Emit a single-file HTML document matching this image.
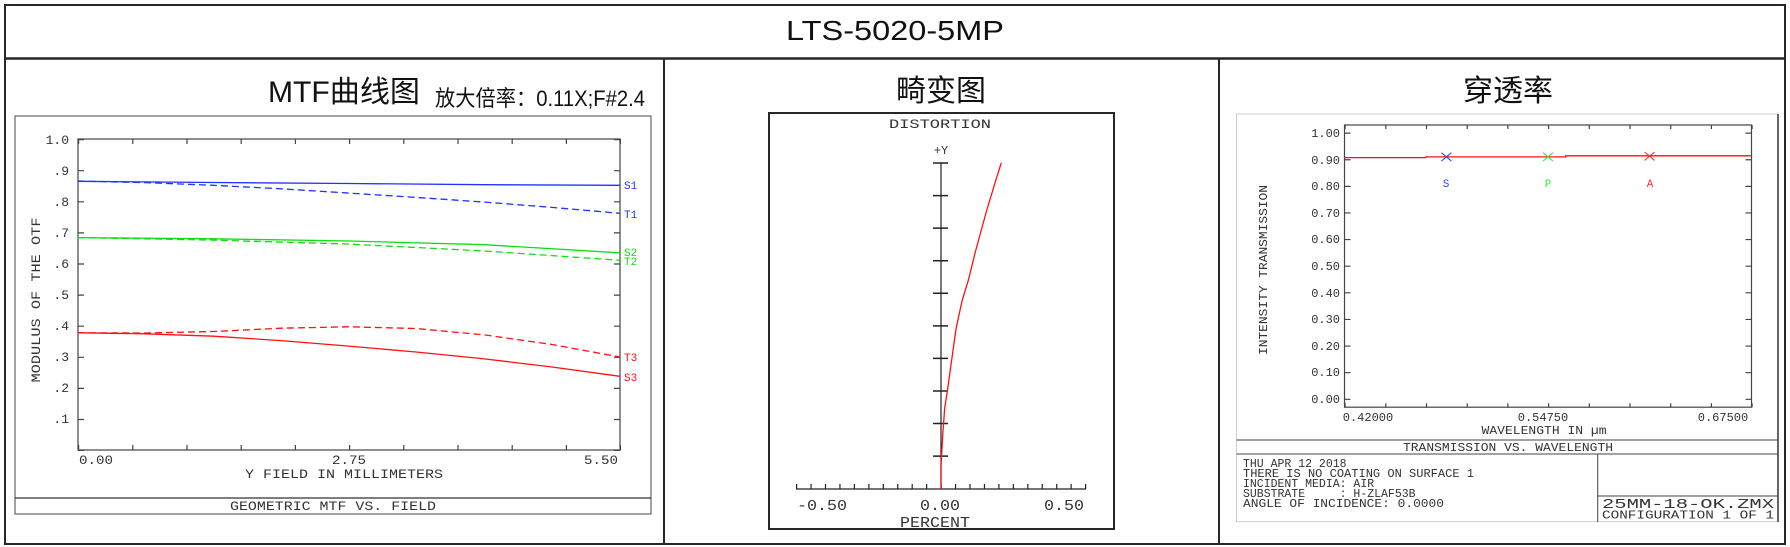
<!DOCTYPE html>
<html><head><meta charset="utf-8"><style>
html,body{margin:0;padding:0;background:#fff;}
svg{display:block;}
text{white-space:pre;}
.m{font-family:"Liberation Mono",monospace;fill:#333;}
.s{font-family:"Liberation Sans","Noto Sans CJK SC",sans-serif;fill:#111;}
</style></head><body>
<svg width="1790" height="547" viewBox="0 0 1790 547" xmlns="http://www.w3.org/2000/svg">
<rect x="0" y="0" width="1790" height="547" fill="#fff"/>
<rect x="5" y="5" width="1780" height="539" fill="none" stroke="#2a2626" stroke-width="2"/>
<line x1="5" y1="58.5" x2="1785" y2="58.5" stroke="#2a2626" stroke-width="2.5"/>
<line x1="664" y1="58" x2="664" y2="544" stroke="#2a2626" stroke-width="2"/>
<line x1="1219" y1="58" x2="1219" y2="544" stroke="#2a2626" stroke-width="2"/>
<text class="s" x="895" y="40" font-size="28" text-anchor="middle" textLength="218" lengthAdjust="spacingAndGlyphs">LTS-5020-5MP</text>

<text class="s" x="268" y="102" font-size="30" textLength="152" lengthAdjust="spacingAndGlyphs">MTF曲线图</text>
<text class="s" x="435" y="106" font-size="22" textLength="210" lengthAdjust="spacingAndGlyphs">放大倍率：0.11X;F#2.4</text>
<rect x="15" y="116" width="636" height="398" fill="none" stroke="#666" stroke-width="1.2"/>
<line x1="15" y1="498" x2="651" y2="498" stroke="#333" stroke-width="1.2"/>
<text class="m" x="333" y="510" font-size="13" text-anchor="middle" textLength="206" lengthAdjust="spacingAndGlyphs">GEOMETRIC MTF VS. FIELD</text>
<rect x="78" y="139" width="542" height="311" fill="none" stroke="#444" stroke-width="1.2"/>
<line x1="78" y1="141.5" x2="621" y2="141.5" stroke="#444" stroke-width="5" stroke-dasharray="1.2 53"/>
<line x1="78" y1="447.5" x2="621" y2="447.5" stroke="#444" stroke-width="5" stroke-dasharray="1.2 53"/>
<line x1="81" y1="139" x2="81" y2="451" stroke="#444" stroke-width="6" stroke-dasharray="1.2 29.9"/>
<line x1="617" y1="139" x2="617" y2="451" stroke="#444" stroke-width="6" stroke-dasharray="1.2 29.9"/>
<g class="m" font-size="13" text-anchor="end">
<text x="69" y="144">1.0</text><text x="69" y="175">.9</text><text x="69" y="206">.8</text><text x="69" y="237">.7</text><text x="69" y="268">.6</text><text x="69" y="299">.5</text><text x="69" y="330">.4</text><text x="69" y="361">.3</text><text x="69" y="392">.2</text><text x="69" y="423">.1</text>
</g>
<g class="m" font-size="13">
<text x="79" y="464" textLength="34" lengthAdjust="spacingAndGlyphs">0.00</text>
<text x="349" y="464" text-anchor="middle" textLength="34" lengthAdjust="spacingAndGlyphs">2.75</text>
<text x="618" y="464" text-anchor="end" textLength="34" lengthAdjust="spacingAndGlyphs">5.50</text>
<text x="344" y="478" text-anchor="middle" textLength="198" lengthAdjust="spacingAndGlyphs">Y FIELD IN MILLIMETERS</text>
<text transform="translate(40,300) rotate(-90)" text-anchor="middle" textLength="165" lengthAdjust="spacingAndGlyphs">MODULUS OF THE OTF</text>
</g>
<g fill="none" stroke-width="1.3">
<polyline stroke="#2233ff" points="78,181.3 213.5,182.5 349,183.5 484.5,184.7 620,185.3"/>
<polyline stroke="#2233ff" stroke-dasharray="7 4" points="78,181 145,182.6 213.5,185.3 281,188.8 349,193.1 416,197.4 484.5,202.1 552,207.4 620,213.3"/>
<polyline stroke="#11dd11" points="78,237.6 213.5,238.8 349,241 484.5,244.7 620,252.8"/>
<polyline stroke="#11dd11" stroke-dasharray="7 4" points="78,237.6 213.5,240.1 349,244.1 484.5,251 620,260.3"/>
<polyline stroke="#ff1111" points="78,332.8 145,333.8 213.5,336.2 281,340.6 349,346.1 416,352 484.5,358.9 552,367 620,376.3"/>
<polyline stroke="#ff1111" stroke-dasharray="7 4" points="78,332.8 145,333 213.5,331.5 281,328.2 349,326.8 416,328.5 484.5,334.9 552,344.5 620,357"/>
</g>
<g font-family="Liberation Mono,monospace" font-size="11">
<text x="624" y="189" fill="#2233ff">S1</text>
<text x="624" y="218" fill="#2233ff">T1</text>
<text x="624" y="256" fill="#11dd11">S2</text>
<text x="624" y="265" fill="#11dd11">T2</text>
<text x="624" y="361" fill="#ff1111">T3</text>
<text x="624" y="381" fill="#ff1111">S3</text>
</g>

<text class="s" x="941" y="101" font-size="30" text-anchor="middle" textLength="90" lengthAdjust="spacingAndGlyphs">畸变图</text>
<rect x="769" y="113" width="345" height="416" fill="none" stroke="#2a2626" stroke-width="2"/>
<text class="m" x="940" y="128" font-size="13" text-anchor="middle" textLength="102" lengthAdjust="spacingAndGlyphs">DISTORTION</text>
<text class="m" x="941" y="154" font-size="12" text-anchor="middle">+Y</text>
<line x1="941" y1="163" x2="941" y2="489" stroke="#222" stroke-width="1.2"/>
<line x1="940.5" y1="162.3" x2="940.5" y2="458" stroke="#222" stroke-width="15" stroke-dasharray="1.5 31.06"/>
<line x1="796" y1="489" x2="1086" y2="489" stroke="#222" stroke-width="1.2"/>
<line x1="796" y1="486.5" x2="1087" y2="486.5" stroke="#222" stroke-width="5" stroke-dasharray="1.2 13.25"/>
<g class="m" font-size="15" text-anchor="middle">
<text x="822" y="510" textLength="50" lengthAdjust="spacingAndGlyphs">-0.50</text>
<text x="940" y="510" textLength="40" lengthAdjust="spacingAndGlyphs">0.00</text>
<text x="1064" y="510" textLength="40" lengthAdjust="spacingAndGlyphs">0.50</text>
<text x="935" y="527" textLength="70" lengthAdjust="spacingAndGlyphs">PERCENT</text>
</g>
<polyline fill="none" stroke="#ff1111" stroke-width="1.3" points="941,489 941,465.7 942.8,434 944.7,408 947.7,388.7 952.3,355.4 956,329 962,301 968.4,280 975.3,252 986.8,210 996.3,178.6 1001.3,162.8"/>

<text class="s" x="1508" y="101" font-size="30" text-anchor="middle" textLength="90" lengthAdjust="spacingAndGlyphs">穿透率</text>
<rect x="1236.5" y="114" width="541.5" height="407.7" fill="none" stroke="#ccc" stroke-width="1"/>
<line x1="1778" y1="114" x2="1778" y2="522" stroke="#333" stroke-width="1.5"/>
<line x1="1236.5" y1="440" x2="1778" y2="440" stroke="#444" stroke-width="1"/>
<line x1="1236.5" y1="454" x2="1778" y2="454" stroke="#444" stroke-width="1"/>
<line x1="1597.7" y1="454" x2="1597.7" y2="522" stroke="#444" stroke-width="1"/>
<line x1="1597.7" y1="496" x2="1778" y2="496" stroke="#444" stroke-width="1"/>
<rect x="1344.5" y="125" width="407" height="282.2" fill="none" stroke="#444" stroke-width="1.2"/>
<line x1="1344.5" y1="127" x2="1753" y2="127" stroke="#444" stroke-width="4" stroke-dasharray="1.2 39.5"/>
<line x1="1344.5" y1="405.2" x2="1753" y2="405.2" stroke="#444" stroke-width="4" stroke-dasharray="1.2 39.5"/>
<line x1="1347.5" y1="132.5" x2="1347.5" y2="400" stroke="#444" stroke-width="6" stroke-dasharray="1.2 25.42"/>
<line x1="1748.5" y1="132.5" x2="1748.5" y2="400" stroke="#444" stroke-width="6" stroke-dasharray="1.2 25.42"/>
<g class="m" font-size="12" text-anchor="end">
<text x="1340" y="137">1.00</text><text x="1340" y="164">0.90</text><text x="1340" y="190">0.80</text><text x="1340" y="217">0.70</text><text x="1340" y="243">0.60</text><text x="1340" y="270">0.50</text><text x="1340" y="297">0.40</text><text x="1340" y="323">0.30</text><text x="1340" y="350">0.20</text><text x="1340" y="376">0.10</text><text x="1340" y="403">0.00</text>
</g>
<g class="m" font-size="12" text-anchor="middle">
<text x="1368" y="421">0.42000</text>
<text x="1543" y="421">0.54750</text>
<text x="1723" y="421">0.67500</text>
<text x="1544" y="434" textLength="125" lengthAdjust="spacingAndGlyphs">WAVELENGTH IN µm</text>
<text x="1508" y="451" textLength="210" lengthAdjust="spacingAndGlyphs">TRANSMISSION VS. WAVELENGTH</text>
<text transform="translate(1267,270) rotate(-90)" textLength="170" lengthAdjust="spacingAndGlyphs">INTENSITY TRANSMISSION</text>
</g>
<polyline fill="none" stroke="#ff1111" stroke-width="1.3" points="1344.5,157.6 1425.9,157.6 1425.9,156.9 1565.7,156.9 1565.7,155.8 1751.5,155.8"/>
<g stroke-width="1.1">
<path d="M1441.4,152.7 L1451.4,161.1 M1451.4,152.7 L1441.4,161.1" stroke="#3344ff"/>
<path d="M1543,152.7 L1553,161.1 M1553,152.7 L1543,161.1" stroke="#33ee33"/>
<path d="M1644.6,152 L1654.6,160.4 M1654.6,152 L1644.6,160.4" stroke="#ff3333"/>
</g>
<g font-family="Liberation Mono,monospace" font-size="11" text-anchor="middle">
<text x="1446" y="187" fill="#3344ff">S</text>
<text x="1548" y="187" fill="#33ee33">P</text>
<text x="1650" y="187" fill="#ff3333">A</text>
</g>
<g class="m" font-size="11.5">
<text x="1243" y="467">THU APR 12 2018</text>
<text x="1243" y="477" textLength="231" lengthAdjust="spacingAndGlyphs">THERE IS NO COATING ON SURFACE 1</text>
<text x="1243" y="487">INCIDENT MEDIA: AIR</text>
<text x="1243" y="497">SUBSTRATE&#160;&#160;&#160;&#160;&#160;: H-ZLAF53B</text>
<text x="1243" y="507" textLength="201" lengthAdjust="spacingAndGlyphs">ANGLE OF INCIDENCE: 0.0000</text>
<text x="1602" y="508" font-size="14" textLength="172" lengthAdjust="spacingAndGlyphs">25MM-18-OK.ZMX</text>
<text x="1602" y="518.5" textLength="172" lengthAdjust="spacingAndGlyphs">CONFIGURATION 1 OF 1</text>
</g>
</svg>
</body></html>
